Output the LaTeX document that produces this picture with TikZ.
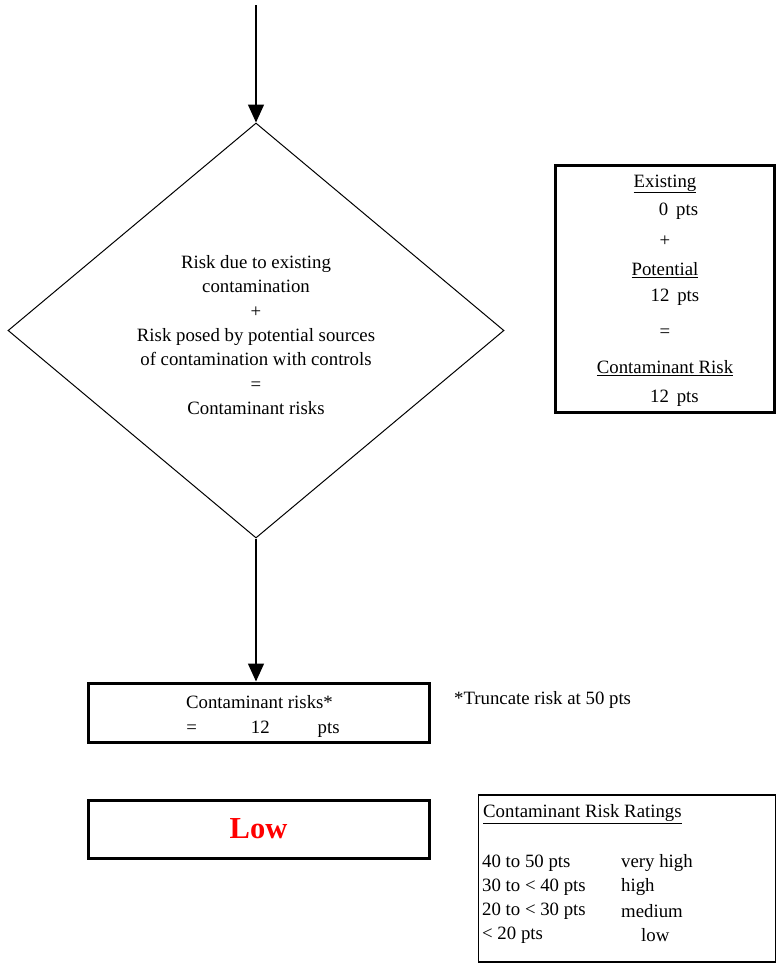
\documentclass[tikz,border=0pt]{standalone}
\usepackage{fontspec}
\setmainfont{Liberation Serif}
\usetikzlibrary{shapes.geometric,arrows.meta}
\begin{document}
\begin{tikzpicture}[x=1pt,y=-1pt,
  txt/.style={font=\fontsize{18.8}{24.3}\selectfont, inner sep=0pt},
  flow/.style={line width=1.5pt,-{Triangle[width=16pt,length=18pt]}},
  thickbox/.style={draw, line width=3pt, rectangle, inner sep=0pt},
  thinbox/.style={draw, line width=1.3pt, rectangle, inner sep=0pt}]
\useasboundingbox (0,0) rectangle (777,964);
% diamond
\node[draw, line width=1pt, diamond, inner sep=0pt, minimum width=496pt, minimum height=415pt] (dia) at (256,330.5) {};
\node[txt, align=center] (diatext) at (256,335)
  {Risk due to existing\\contamination\\+\\Risk posed by potential sources\\of contamination with controls\\=\\Contaminant risks};
\coordinate (start) at (256,5);
\draw[flow] (start) -- (dia.north);
% result box
\node[thickbox, minimum width=341pt, minimum height=59pt] (res) at (258.5,712.5) {};
\node[txt] (rest1) at (259.5,702) {Contaminant risks*};
\node[txt] (rest2) at (263,729) {=\hspace{54pt}12\hspace{48pt}pts};
\draw[flow] (dia.south) -- (dia.south |- res.north);
\node[txt, anchor=west] (trunc) at (454,700) {*Truncate risk at 50 pts};
% low box
\node[thickbox, minimum width=341pt, minimum height=58pt, text=red,
      font=\bfseries\fontsize{30.5}{32}\selectfont] (low) at (258.5,829) {Low};
% right summary box
\node[thickbox, minimum width=219pt, minimum height=247pt] (sum) at (664.5,289) {};
\node[txt] (s1) at (665,184) {\underline{Existing}};
\node[txt] (s2) at (678.5,211) {0\, pts};
\node[txt] (s3) at (665,241) {+};
\node[txt] (s4) at (665,270) {\underline{Potential}};
\node[txt] (s5) at (675,297) {12\, pts};
\node[txt] (s6) at (665,333) {=};
\node[txt] (s7) at (665,368) {\underline{Contaminant Risk}};
\node[txt] (s8) at (674.5,398) {12\, pts};
% ratings box
\node[thinbox, minimum width=297pt, minimum height=167pt] (rat) at (627,878.5) {};
\node[txt, anchor=west] (r0) at (483,814) {\underline{Contaminant Risk Ratings}};
\node[txt, anchor=west] (r1a) at (482,863) {40 to 50 pts};
\node[txt, anchor=west] (r1b) at (621,863) {very high};
\node[txt, anchor=west] (r2a) at (482,887) {30 to < 40 pts};
\node[txt, anchor=west] (r2b) at (621,887) {high};
\node[txt, anchor=west] (r3a) at (482,911) {20 to < 30 pts};
\node[txt, anchor=west] (r3b) at (621,911) {medium};
\node[txt, anchor=west] (r4a) at (482,935) {< 20 pts};
\node[txt, anchor=west] (r4b) at (641,935) {low};
\end{tikzpicture}
\end{document}
